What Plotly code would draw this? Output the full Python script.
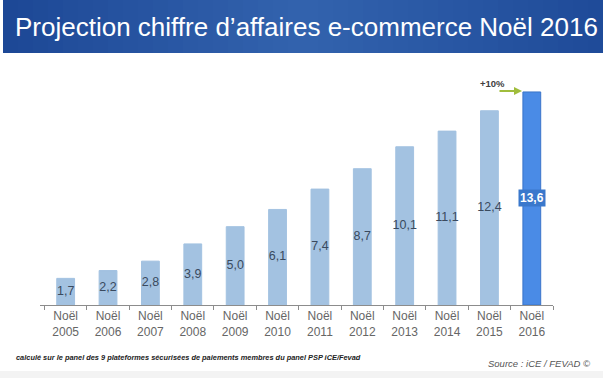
import plotly.graph_objects as go

years = ["2005", "2006", "2007", "2008", "2009", "2010", "2011", "2012", "2013", "2014", "2015", "2016"]
values = [1.7, 2.2, 2.8, 3.9, 5.0, 6.1, 7.4, 8.7, 10.1, 11.1, 12.4, 13.6]
value_labels = ["1,7", "2,2", "2,8", "3,9", "5,0", "6,1", "7,4", "8,7", "10,1", "11,1", "12,4", "13,6"]
categories = ["Noël<br>" + y for y in years]
title_text = "Projection chiffre d’affaires e-commerce Noël 2016"
growth_text = "+10%"
footnote_text = "calculé sur le panel des 9 plateformes sécurisées de paiements membres du panel PSP iCE/Fevad"
source_text = "Source : iCE / FEVAD ©"

W, H = 603, 378
light = "#a3c2e1"
strong = "#4a8be6"
colors = [light] * (len(years) - 1) + [strong]
line_colors = [light] * (len(years) - 1) + ["#3a74c9"]

fig = go.Figure()
fig.add_trace(go.Bar(
    x=categories, y=values,
    marker=dict(color=colors, line=dict(color=line_colors, width=1)),
    hoverinfo="skip",
))
# value labels centred in the bars (all but last, which gets a boxed label)
fig.add_trace(go.Scatter(
    x=categories[:-1], y=[v / 2 for v in values[:-1]], text=value_labels[:-1],
    mode="text", textposition="middle center",
    textfont=dict(family="Liberation Sans, Arial", size=12.5, color="#3a4a5e"),
    hoverinfo="skip", cliponaxis=False,
))

# banner gradient
def mix(c1, c2, t):
    return "#%02x%02x%02x" % tuple(int(round(a + (b - a) * t)) for a, b in zip(c1, c2))
left, mid, right = (0x1d, 0x48, 0x96), (0x33, 0x63, 0xae), (0x1f, 0x4b, 0x99)
n = 40
x0p, x1p = 3 / W, 1.0
shapes = []
for i in range(n):
    t = i / (n - 1)
    c = mix(left, mid, t * 2) if t < 0.5 else mix(mid, right, (t - 0.5) * 2)
    a = x0p + (x1p - x0p) * i / n
    b = min(1.0, x0p + (x1p - x0p) * (i + 1) / n + 0.001)
    shapes.append(dict(type="rect", xref="paper", yref="paper", x0=a, x1=b,
                       y0=(H - 53) / H, y1=1.0, fillcolor=c, line=dict(width=0), layer="below"))
# bottom grey strip
shapes.append(dict(type="rect", xref="paper", yref="paper", x0=0, x1=1, y0=0, y1=(H - 371) / H,
                   fillcolor="#f3f3f3", line=dict(width=0), layer="below"))

annotations = [
    dict(text=title_text, xref="paper", yref="paper", x=13 / W, y=(H - 27) / H,
         xanchor="left", yanchor="middle", showarrow=False,
         font=dict(family="Liberation Sans, Arial", size=26, color="white")),
    dict(text="<b>" + value_labels[-1] + "</b>", x=categories[-1], y=values[-1] / 2, xref="x", yref="y",
         showarrow=False, bgcolor="#3a78cc", borderpad=1,
         font=dict(family="Liberation Sans, Arial", size=12, color="white")),
    dict(text="<b>" + growth_text + "</b>", xref="paper", yref="paper", x=507 / W, y=(H - 76) / H,
         showarrow=False, font=dict(family="Liberation Sans, Arial", size=9.5, color="#404040")),
    dict(text="", xref="paper", yref="paper", x=522 / W, y=(H - 91) / H,
         ax=-24, ay=0, showarrow=True,
         arrowhead=2, arrowsize=0.8, arrowwidth=2, arrowcolor="#a0bd3c"),
    dict(text="<b><i>" + footnote_text + "</i></b>", xref="paper", yref="paper", x=14 / W, y=(H - 357) / H,
         xanchor="left", yanchor="middle", showarrow=False,
         font=dict(family="Liberation Sans Narrow, Liberation Sans, Arial", size=7.4, color="#222222")),
    dict(text="<i>" + source_text + "</i>", xref="paper", yref="paper", x=592 / W, y=(H - 363) / H,
         xanchor="right", yanchor="middle", showarrow=False,
         font=dict(family="Liberation Sans, Arial", size=9.5, color="#555555")),
]

fig.update_layout(
    width=W, height=H, margin=dict(l=0, r=0, t=0, b=0),
    paper_bgcolor="white", plot_bgcolor="white", showlegend=False,
    shapes=shapes, annotations=annotations, bargap=0.58,
    xaxis=dict(domain=[40 / W, 553 / W], type="category",
               tickson="boundaries", ticks="outside", ticklen=4, tickcolor="#8c8c8c",
               showline=True, linecolor="#8c8c8c", linewidth=1, showgrid=False, zeroline=False,
               tickfont=dict(family="Liberation Sans, Arial", size=12, color="#666666"), fixedrange=True),
    yaxis=dict(domain=[(H - 305) / H, (H - 60) / H], range=[0, 15.64], visible=False,
               showgrid=False, zeroline=False, fixedrange=True),
)

fig.write_html("out.html", config={"displayModeBar": False},
               post_script="document.body.style.margin='0px';document.body.style.overflow='hidden';")
